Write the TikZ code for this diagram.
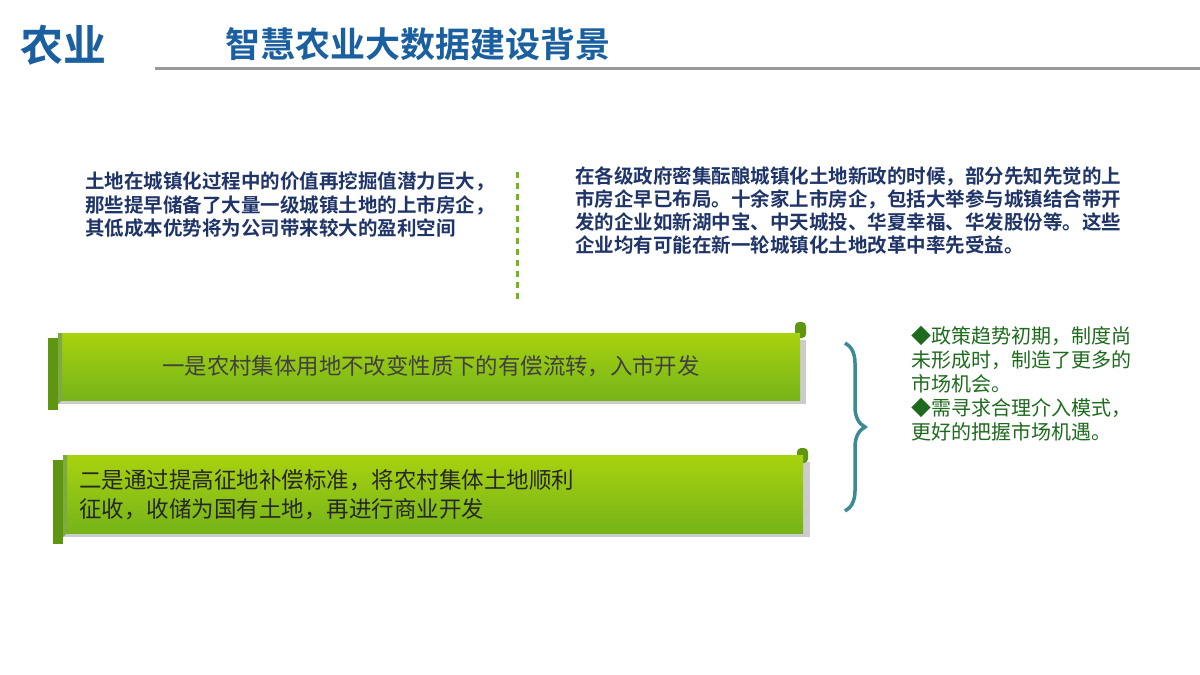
\documentclass[tikz,border=0pt]{standalone}
\usepackage{fontspec}
\newfontfamily\cjk{Noto Sans CJK SC}
\newfontfamily\cjkb{Noto Sans CJK SC Bold}
\usetikzlibrary{decorations.pathreplacing}
\definecolor{tblue}{HTML}{1A5FA0}
\definecolor{navy}{HTML}{1F3468}
\definecolor{gtop}{HTML}{A8D20E}
\definecolor{gbot}{HTML}{76B41A}
\definecolor{gdark}{HTML}{5E9612}
\definecolor{teal}{HTML}{3A8B96}
\definecolor{dgreen}{HTML}{1E6B1E}
\tikzset{
 para/.style={anchor=north west,align=left,text=navy,font=\cjkb\fontsize{19.5}{23.3}\selectfont,inner sep=0},
 band/.style={top color=gtop,bottom color=gbot,draw=none},
 curl/.style={fill=gdark,draw=none},
}
\begin{document}
\begin{tikzpicture}[x=1pt,y=-1pt]
\useasboundingbox (0,0) rectangle (1200,675);
\fill[white] (0,0) rectangle (1200,675);
\node[anchor=west,text=tblue,font=\cjkb\fontsize{43}{43}\selectfont,inner sep=0] (h1) at (20,45) {农业};
\node[anchor=west,text=tblue,font=\cjkb\fontsize{35}{35}\selectfont,inner sep=0] (h2) at (225,44) {智慧农业大数据建设背景};
\fill[gray!80] (155,66.5) rectangle (1200,70);
\node[para] (p1) at (85,172) {土地在城镇化过程中的价值再挖掘值潜力巨大，\\那些提早储备了大量一级城镇土地的上市房企，\\其低成本优势将为公司带来较大的盈利空间};
\coordinate (d1) at (517,172); \coordinate (d2) at (517,303);
\draw[gbot,line width=3pt,dash pattern=on 6pt off 5pt] (d1) -- (d2);
\node[para] (p2) at (575,166) {在各级政府密集酝酿城镇化土地新政的时候，部分先知先觉的上\\市房企早已布局。十余家上市房企，包括大举参与城镇结合带开\\发的企业如新湖中宝、中天城投、华夏幸福、华发股份等。这些\\企业均有可能在新一轮城镇化土地改革中率先受益。};
% banner 1
\fill[gray!40] (52,340) rectangle (806,404);
\fill[curl] (48,338) rectangle (58,410);
\fill[curl,rounded corners=4pt] (795,322) rectangle (806,338);
\fill[band] (58,333) rectangle (800,400);
\fill[gdark!80] (58,333) -- (62,333) -- (62,400) -- (58,404) -- cycle;
\node[text=black!75,font=\cjk\fontsize{22.4}{22.4}\selectfont] (b1) at (431,366) {一是农村集体用地不改变性质下的有偿流转，入市开发};
% banner 2
\fill[gray!40] (57,462) rectangle (810,537);
\fill[curl] (53,460) rectangle (63,544);
\fill[curl,rounded corners=4pt] (797,448) rectangle (808,463);
\fill[band] (63,455) rectangle (803,533);
\fill[gdark!80] (63,455) -- (67,455) -- (67,533) -- (63,537) -- cycle;
\node[anchor=west,align=left,text=black!85,font=\cjk\fontsize{22.5}{29}\selectfont,inner sep=0] (b2) at (79,495) {二是通过提高征地补偿标准，将农村集体土地顺利\\征收，收储为国有土地，再进行商业开发};
% brace
\coordinate (br1) at (845,343); \coordinate (br2) at (845,511);
\draw[teal,line width=3.5pt,decorate,decoration={brace,amplitude=20pt,aspect=0.5}] (br1) -- (br2);
\node[anchor=north west,align=left,text=dgreen,font=\cjk\fontsize{20}{24}\selectfont,inner sep=0] (r) at (911,326) {◆政策趋势初期，制度尚\\未形成时，制造了更多的\\市场机会。\\◆需寻求合理介入模式，\\更好的把握市场机遇。};
\end{tikzpicture}
\end{document}
